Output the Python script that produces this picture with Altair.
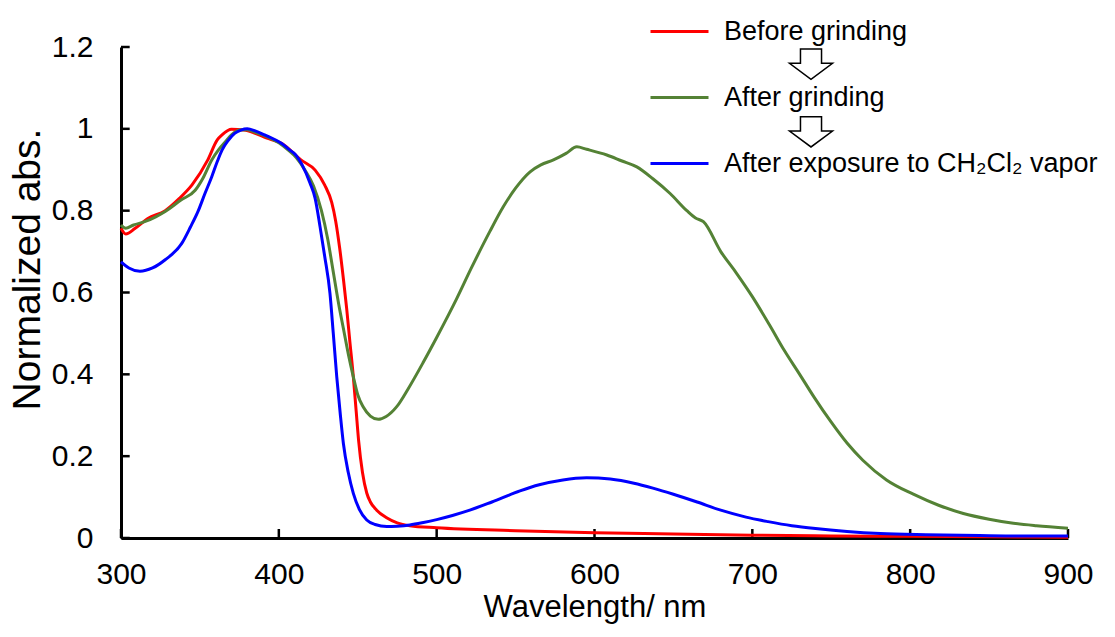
import altair as alt
import pandas as pd

# ---------------- data ----------------
series_names = ["Before grinding", "After grinding", "After exposure to CH\u2082Cl\u2082 vapor"]
series_colors = ["#FF0000", "#548235", "#0000FF"]

before_wl = [300, 303, 309, 317, 328, 337, 345, 355, 361, 364, 370, 378, 385, 392, 402,
             414, 423, 429, 433.5, 436, 438.5, 441, 443, 445, 447.2, 449, 450.5, 453,
             455.7, 458, 462, 468, 475, 483, 500, 550, 600, 650, 700, 750, 800, 850, 900]
before_abs = [0.757, 0.743, 0.757, 0.781, 0.80, 0.83, 0.863, 0.924, 0.973, 0.985, 0.999,
              0.997, 0.989, 0.978, 0.964, 0.924, 0.899, 0.863, 0.82, 0.775, 0.71, 0.63,
              0.56, 0.48, 0.394, 0.31, 0.24, 0.16, 0.11, 0.088, 0.068, 0.05, 0.037,
              0.03, 0.025, 0.018, 0.013, 0.010, 0.007, 0.005, 0.004, 0.003, 0.002]

ground_wl = [300, 303, 308, 315, 322, 328, 338, 347, 352, 357.5, 362, 366, 370, 375, 380,
             386, 393, 400, 406, 411, 416.6, 422, 427, 431, 434.5, 438, 441, 444, 447.2,
             450, 453.5, 458, 463, 468, 474.7, 482, 491.6, 500, 512.7, 522, 533.8, 542.3,
             550, 559.2, 566, 574, 582, 588.8, 595, 607.8, 617, 626.8, 637, 647.9, 658.5,
             664, 669, 680, 690, 700, 711, 720, 730, 739, 750, 760, 770, 785, 802,
             818, 833.7, 850, 865.4, 880, 900]
ground_abs = [0.765, 0.757, 0.765, 0.773, 0.785, 0.798, 0.826, 0.85, 0.88, 0.924, 0.95,
              0.968, 0.985, 0.997, 0.998, 0.99, 0.98, 0.966, 0.948, 0.93, 0.899, 0.86,
              0.80, 0.73, 0.65, 0.57, 0.51, 0.45, 0.394, 0.35, 0.32, 0.298, 0.29, 0.297,
              0.321, 0.365, 0.43, 0.49, 0.585, 0.66, 0.75, 0.81, 0.855, 0.895, 0.912,
              0.924, 0.94, 0.956, 0.95, 0.936, 0.922, 0.907, 0.878, 0.842, 0.80, 0.782,
              0.773, 0.70, 0.647, 0.59, 0.52, 0.46, 0.40, 0.345, 0.283, 0.232, 0.19,
              0.142, 0.107, 0.08, 0.06, 0.046, 0.036, 0.03, 0.024]

vapor_wl = [300, 305, 312, 320, 328, 338.5, 344, 349, 353, 357.5, 361, 364, 368, 372, 376,
            380, 385, 391, 401.8, 407, 410.3, 415, 419.8, 423, 426.1, 429, 432.4, 434.5,
            436.7, 439, 440.9, 444, 447.2, 451, 455.7, 461, 468.4, 475, 483, 491.6, 500,
            510, 521, 535, 552.8, 565, 580, 595, 610, 625, 637, 650, 665, 680, 696, 710,
            725, 740, 760, 781, 810, 844, 870, 900]
vapor_abs = [0.675, 0.66, 0.652, 0.66, 0.68, 0.72, 0.76, 0.80, 0.84, 0.883, 0.92, 0.948,
             0.972, 0.989, 0.997, 1.0, 0.995, 0.985, 0.964, 0.948, 0.938, 0.91, 0.867,
             0.83, 0.761, 0.69, 0.598, 0.50, 0.394, 0.30, 0.231, 0.16, 0.109, 0.07, 0.044,
             0.033, 0.028, 0.029, 0.032, 0.038, 0.045, 0.055, 0.068, 0.088, 0.115, 0.13,
             0.142, 0.147, 0.144, 0.134, 0.122, 0.107, 0.088, 0.068, 0.051, 0.040, 0.030,
             0.023, 0.016, 0.011, 0.008, 0.006, 0.005, 0.005]

x_ticks = [300, 400, 500, 600, 700, 800, 900]
y_ticks = [0, 0.2, 0.4, 0.6, 0.8, 1.0, 1.2]

# ---------------- build tables ----------------
frames = []
for name, wl, ab in [(series_names[0], before_wl, before_abs),
                     (series_names[1], ground_wl, ground_abs),
                     (series_names[2], vapor_wl, vapor_abs)]:
    frames.append(pd.DataFrame({"wavelength": wl, "abs": ab, "series": name}))
df = pd.concat(frames, ignore_index=True)

FONT = "Liberation Sans"

x_enc = alt.X("wavelength:Q",
              scale=alt.Scale(domain=[300, 900], nice=False, zero=False),
              axis=alt.Axis(values=x_ticks, ticks=False, tickSize=0, grid=False,
                            domainColor="black", domainWidth=3,
                            labelFont=FONT, labelFontSize=30, labelColor="black",
                            labelPadding=21, labelFlush=False,
                            title="Wavelength/ nm", titleFont=FONT, titleFontSize=31,
                            titleFontWeight="normal", titleColor="black", titlePadding=3))
y_enc = alt.Y("abs:Q",
              scale=alt.Scale(domain=[0, 1.2], nice=False),
              axis=alt.Axis(values=y_ticks, format=".1~f", ticks=False, tickSize=0,
                            grid=False, domainColor="black", domainWidth=3,
                            labelFont=FONT, labelFontSize=30, labelColor="black",
                            labelPadding=28, labelFlush=False,
                            title="Normalized abs.", titleFont=FONT, titleFontSize=39,
                            titleFontWeight="normal", titleColor="black",
                            titleAngle=270, titleAlign="center", titleBaseline="middle",
                            titleX=-94, titleY=222))
color_scale = alt.Scale(domain=series_names, range=series_colors)
legend = alt.Legend(title=None, orient="none", legendX=528, legendY=-46,
                    symbolType="stroke", symbolSize=3364, symbolStrokeWidth=3,
                    labelFont=FONT, labelFontSize=27, labelColor="black",
                    labelOffset=14, rowPadding=22, labelLimit=800, direction="vertical")

layers = []
for name in series_names:
    layers.append(
        alt.Chart(df[df["series"] == name]).mark_line(strokeWidth=3, interpolate="monotone")
        .encode(x=x_enc, y=y_enc,
                color=alt.Color("series:N", scale=color_scale, legend=legend))
    )

# inward tick marks (short rules from the axis into the plot)
xt = pd.DataFrame({"wavelength": x_ticks})
yt = pd.DataFrame({"abs": y_ticks})
x_tick_marks = alt.Chart(xt).mark_rule(color="black", strokeWidth=2.5).encode(
    x="wavelength:Q", y=alt.datum(0), y2=alt.datum(0.022))
y_tick_marks = alt.Chart(yt).mark_rule(color="black", strokeWidth=2.5).encode(
    y="abs:Q", x=alt.datum(300), x2=alt.datum(305.5))

# hollow arrows between legend entries
arrow_path = "M -0.49 -0.7 L 0.49 -0.7 L 0.49 -0.03 L 1 -0.03 L 0 0.71 L -1 -0.03 L -0.49 -0.03 Z"
one = pd.DataFrame({"k": [0]})
arrow1 = alt.Chart(one).mark_point(shape=arrow_path, size=1849, filled=False,
                                   stroke="black", strokeWidth=1.5, opacity=1).encode(
    x=alt.value(690), y=alt.value(17))
arrow2 = alt.Chart(one).mark_point(shape=arrow_path, size=1849, filled=False,
                                   stroke="black", strokeWidth=1.5, opacity=1).encode(
    x=alt.value(690), y=alt.value(84.7))

chart = alt.layer(x_tick_marks, y_tick_marks, *layers, arrow1, arrow2).properties(
    width=947, height=491,
    autosize=alt.AutoSizeParams(type="none"),
    padding={"left": 121, "top": 47, "right": 47, "bottom": 99},
    background="white",
).configure_view(stroke=None)

chart.save("out.html", embed_options={"renderer": "svg", "actions": False})
